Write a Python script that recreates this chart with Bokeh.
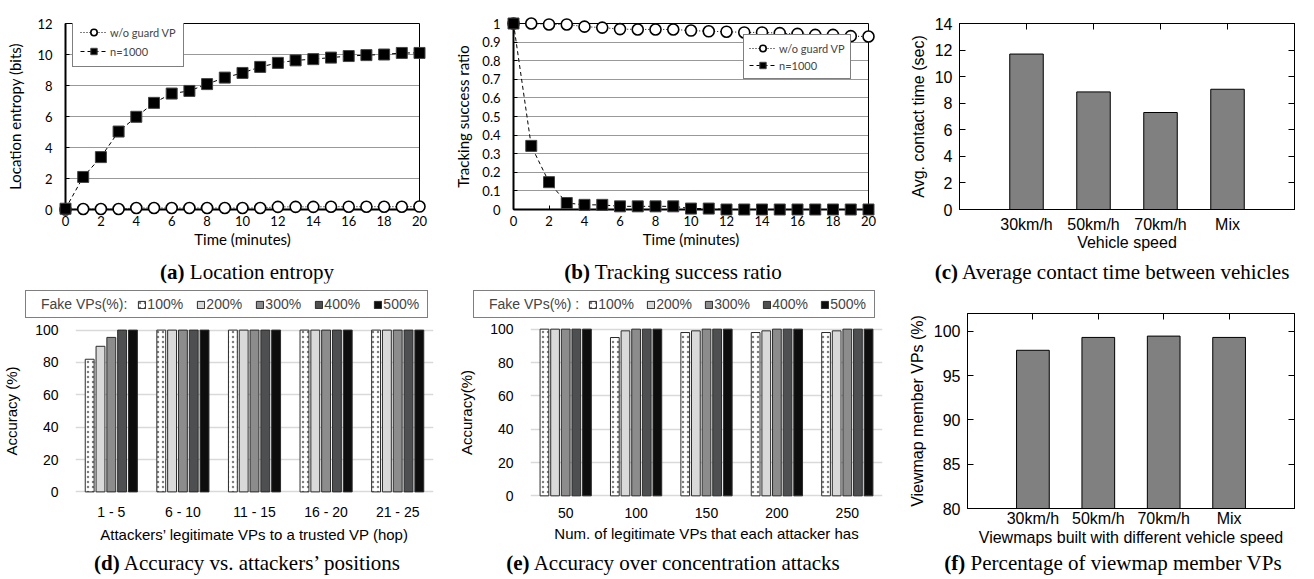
from bokeh.plotting import figure
from bokeh.models import (ColumnDataSource, FactorRange, Range1d, FixedTicker, Legend, LegendItem,
                          LinearAxis, CategoricalAxis, Div, NumeralTickFormatter)
from bokeh.transform import dodge
from bokeh.layouts import row, column
from bokeh.embed import file_html
from bokeh.resources import INLINE

# ---------------- data ----------------
minutes = list(range(21))
entropy_no_guard = [0.0, 0.03, 0.03, 0.03, 0.1, 0.1, 0.1, 0.1, 0.1, 0.1, 0.1, 0.1,
                    0.17, 0.17, 0.17, 0.18, 0.18, 0.18, 0.18, 0.18, 0.19]
entropy_n1000 = [0.05, 2.1, 3.38, 5.03, 5.98, 6.88, 7.48, 7.65, 8.09, 8.51, 8.81, 9.2,
                 9.46, 9.62, 9.7, 9.8, 9.9, 9.96, 10.0, 10.1, 10.1]
track_no_guard = [1.0, 1.0, 0.995, 0.995, 0.983, 0.978, 0.97, 0.968, 0.968, 0.968, 0.962,
                  0.958, 0.956, 0.952, 0.952, 0.948, 0.944, 0.939, 0.939, 0.932, 0.93]
track_n1000 = [1.0, 0.342, 0.147, 0.035, 0.025, 0.025, 0.017, 0.017, 0.017, 0.017, 0.005,
               0.005, 0.0, 0.0, 0.0, 0.0, 0.0, 0.0, 0.0, 0.0, 0.0]

speeds = ["30km/h", "50km/h", "70km/h", "Mix"]
contact_time = [11.7, 8.85, 7.3, 9.05]
member_vps = [97.85, 99.3, 99.45, 99.3]

fake_levels = ["100%", "200%", "300%", "400%", "500%"]
hop_groups = ["1 - 5", "6 - 10", "11 - 15", "16 - 20", "21 - 25"]
pos_acc_100 = [82, 100, 100, 100, 100]
pos_acc_200 = [90, 100, 100, 100, 100]
pos_acc_300 = [95.5, 100, 100, 100, 100]
pos_acc_400 = [100, 100, 100, 100, 100]
pos_acc_500 = [100, 100, 100, 100, 100]

legit_groups = ["50", "100", "150", "200", "250"]
conc_acc_100 = [100, 95, 98, 98, 98]
conc_acc_200 = [100, 99, 99, 99, 99]
conc_acc_300 = [100, 100, 100, 100, 100]
conc_acc_400 = [100, 100, 100, 100, 100]
conc_acc_500 = [100, 100, 100, 100, 100]

# ---------------- styles ----------------
F_CAL = "Lato"
F_SANS = "Liberation Sans"
F_SERIF = "Liberation Serif"
bar_fills = ["white", "#d9d9d9", "#8c8c8c", "#4d4f51", "#0d0d0d"]


def bar_style(j):
    kw = dict(fill_color=bar_fills[j], line_color="#2b2b2b", line_width=1)
    if j == 0:
        kw.update(hatch_pattern="dot", hatch_color="#808080", hatch_scale=5, hatch_weight=1)
    return kw


def base_fig(width, height, left, right, top, bottom, x_range, y_range):
    return figure(width=width, height=height, x_range=x_range, y_range=y_range,
                  min_border_left=left, min_border_right=right, min_border_top=top,
                  min_border_bottom=bottom, output_backend="svg", toolbar_location=None)


def style_axis(ax, font, tick_size, label_size):
    ax.major_label_text_font = font
    ax.major_label_text_font_size = tick_size
    ax.major_label_text_color = "black"
    ax.axis_label_text_font = font
    ax.axis_label_text_font_size = label_size
    ax.axis_label_text_font_style = "normal"
    ax.axis_label_text_color = "black"
    ax.minor_tick_line_color = None


def line_panel(width, left, right, top, yr, yticks, ylabel, s_no, s_n, leg_xy, leg_pad, leg_sp,
               ylab_sd, fmt=None):
    p = base_fig(width, 261, left, right, top, 52, Range1d(0, 20), Range1d(*yr))
    p.xgrid.visible = False
    p.ygrid.grid_line_color = "black"
    p.ygrid.grid_line_dash = "1 1"
    p.ygrid.grid_line_alpha = 0.8
    p.outline_line_color = "black"
    p.outline_line_width = 1
    p.outline_line_alpha = 1
    p.xaxis.ticker = FixedTicker(ticks=list(range(0, 21, 2)))
    p.yaxis.ticker = FixedTicker(ticks=yticks)
    if fmt:
        p.yaxis.formatter = NumeralTickFormatter(format=fmt)
    for ax in (p.xaxis[0], p.yaxis[0]):
        style_axis(ax, F_CAL, "13px", "15px")
        ax.axis_line_width = 2
        ax.axis_line_color = "black"
        ax.major_tick_in = 4
        ax.major_tick_out = 0
        ax.major_tick_line_color = "black"
    p.xaxis.axis_label = "Time (minutes)"
    p.xaxis.major_label_standoff = 6
    p.xaxis.axis_label_standoff = 1
    p.yaxis.axis_label = ylabel
    p.yaxis.major_label_standoff = 13
    p.yaxis.axis_label_standoff = ylab_sd

    l1 = p.line(minutes, s_no, line_color="black", line_width=1, line_dash="1 2")
    m1 = p.scatter(minutes, s_no, marker="circle", size=11, fill_color="white",
                   line_color="black", line_width=1.6)
    l2 = p.line(minutes, s_n, line_color="black", line_width=1, line_dash="4 3")
    m2 = p.scatter(minutes, s_n, marker="square", size=11, fill_color="black",
                   line_color="#444444", line_width=1)
    m1.level = "overlay"
    m2.level = "overlay"
    leg = Legend(items=[LegendItem(label="w/o guard VP", renderers=[l1, m1]),
                        LegendItem(label="n=1000", renderers=[l2, m2])],
                 location=leg_xy, orientation="vertical", glyph_width=27, glyph_height=16,
                 label_height=16, padding=leg_pad, spacing=leg_sp, label_standoff=3,
                 label_text_font=F_CAL, label_text_font_size="11px",
                 border_line_color="black", border_line_width=1, background_fill_alpha=1)
    p.add_layout(leg)
    return p


# (a) Location entropy: frame x 65-419, y 13-209
pa = line_panel(450, 65, 31, 13, (0, 12), list(range(0, 13, 2)), "Location entropy (bits)",
                entropy_no_guard, entropy_n1000, (7, 142), 7, 3, 10)
# (b) Tracking success ratio: frame x 513-868, y 12-209
pb = line_panel(450, 63, 32, 12, (0, 1), [0, 0.1, 0.2, 0.3, 0.4, 0.5, 0.6, 0.7, 0.8, 0.9, 1.0],
                "Tracking success ratio", track_no_guard, track_n1000, (230, 130), 5, 1, 7,
                fmt="0.[0]")


def gnu_panel(width, height, left, right, top, bottom, vals, yr, yticks, ylabel, xlabel,
              xtick_sd, xlab_sd):
    p = base_fig(width, height, left, right, top, bottom,
                 FactorRange(factors=speeds, range_padding=0.5, range_padding_units="absolute"),
                 Range1d(*yr))
    p.grid.visible = False
    p.outline_line_color = "black"
    p.outline_line_width = 1
    p.outline_line_alpha = 1
    p.vbar(x=speeds, top=vals, bottom=yr[0], width=0.5, fill_color="#808080",
           line_color="black", line_width=1)
    p.yaxis.ticker = FixedTicker(ticks=yticks)
    for ax in (p.xaxis[0], p.yaxis[0]):
        style_axis(ax, F_SANS, "16px", "16px")
        ax.axis_line_color = "black"
        ax.major_tick_line_color = "black"
        ax.major_tick_out = 0
    p.xaxis.major_tick_in = 0
    p.yaxis.major_tick_in = 6
    p.xaxis.axis_label = xlabel
    p.xaxis.major_label_standoff = xtick_sd
    p.xaxis.axis_label_standoff = xlab_sd
    p.yaxis.axis_label = ylabel
    p.yaxis.major_label_standoff = 7
    p.yaxis.axis_label_standoff = 5
    top_ax = CategoricalAxis(major_label_text_font_size="1px", major_label_text_color=None,
                             major_label_standoff=0, major_tick_in=6, major_tick_out=0,
                             axis_line_color="black")
    right_ax = LinearAxis(ticker=FixedTicker(ticks=yticks), major_label_text_font_size="1px",
                          major_label_text_color=None, major_label_standoff=0,
                          major_tick_in=6, major_tick_out=0,
                          minor_tick_line_color=None, axis_line_color="black")
    p.add_layout(top_ax, "above")
    p.add_layout(right_ax, "right")
    return p


# (c) frame x 959-1294, y 23-216
pc = gnu_panel(406, 261, 59, 12, 23, 45, contact_time, (0, 14), list(range(0, 15, 2)),
               "Avg. contact time (sec)", "Vehicle speed", 6, -2)


def acc_panel(width, left, right, top, fh, groups, sources, ylabel, xlabel,
              ylab_sd, xtick_sd, xlab_sd):
    h = 233
    p = base_fig(width, h, left, right, top, h - top - fh,
                 FactorRange(factors=groups, range_padding=0), Range1d(-1, 101))
    p.xgrid.visible = False
    p.ygrid.grid_line_color = "#d9d9d9"
    p.ygrid.grid_line_width = 1.5
    p.outline_line_color = None
    p.yaxis.ticker = FixedTicker(ticks=[0, 20, 40, 60, 80, 100])
    for ax in (p.xaxis[0], p.yaxis[0]):
        style_axis(ax, F_SANS, "14px", "15px")
        ax.axis_line_color = None
        ax.major_tick_line_color = None
    p.yaxis.major_label_standoff = 11
    p.yaxis.axis_label = ylabel
    p.yaxis.axis_label_standoff = ylab_sd
    p.xaxis.major_label_standoff = xtick_sd
    p.xaxis.axis_label = xlabel
    p.xaxis.axis_label_standoff = xlab_sd
    for j, src in enumerate(sources):
        p.vbar(x=dodge("grp", (j - 2) * 0.151, range=p.x_range), top="val", bottom=0,
               width=0.124, source=src, **bar_style(j))
    return p


def legend_strip(width, xr, sources, fake_title, leg_xy, leg_spacing):
    """Strip above a bar panel holding its 'Fake VPs(%)' legend.  The swatch renderers use the
    same series as the panel, but the strip's y-range lies above 100, so only the legend shows."""
    f = figure(frame_width=width, frame_height=36, x_range=xr, y_range=Range1d(101.5, 102),
               min_border=0, min_border_left=0, min_border_right=0, min_border_top=0,
               min_border_bottom=0, x_axis_location=None, y_axis_location=None,
               output_backend="svg", toolbar_location=None)
    f.grid.visible = False
    f.outline_line_color = None
    blank = f.vbar(x=[], top=[], width=0.1, fill_alpha=0, line_alpha=0)
    items = [LegendItem(label=fake_title, renderers=[blank])]
    for j, src in enumerate(sources):
        sw = f.vbar(x=dodge("grp", (j - 2) * 0.151, range=xr), top="val", bottom=0,
                    width=0.124, source=src, **bar_style(j))
        items.append(LegendItem(label=fake_levels[j], renderers=[sw]))
    leg = Legend(items=items, location=leg_xy, orientation="horizontal", glyph_width=9,
                 glyph_height=9, label_height=9, padding=5, spacing=leg_spacing, label_standoff=1,
                 label_width=39, label_text_font=F_SANS, label_text_font_size="14px",
                 border_line_color="black", border_line_width=1, background_fill_alpha=1)
    f.add_layout(leg)
    return f


src_d = [ColumnDataSource(dict(grp=hop_groups, val=v))
         for v in (pos_acc_100, pos_acc_200, pos_acc_300, pos_acc_400, pos_acc_500)]
src_e = [ColumnDataSource(dict(grp=legit_groups, val=v))
         for v in (conc_acc_100, conc_acc_200, conc_acc_300, conc_acc_400, conc_acc_500)]

# (d) frame x 61-433, y 328-493 ; legend box x 25-427, y 292-318
pd_ = acc_panel(455, 61, 22, 9, 165, hop_groups, src_d,
                "Accuracy (%)", "Attackers\u2019 legitimate VPs to a trusted VP (hop)", 12, 4, 3)
leg_d = legend_strip(455, pd_.x_range, src_d, "Fake VPs(%):", (25, 1), 10)
# (e) frame x 510-882, y 327-497 ; legend box x 473-874
pe = acc_panel(440, 55, 13, 8, 170, legit_groups, src_e,
               "Accuracy(%)", "Num. of legitimate VPs that each attacker has", 12, 4, 4)
leg_e = legend_strip(440, pe.x_range, src_e, "Fake VPs(%) :", (18, 1), 9)
# (f) frame x 967-1294, y 313-508
pf = gnu_panel(411, 269, 72, 12, 30, 44, member_vps, (80, 102), [80, 85, 90, 95, 100],
               "Viewmap member VPs (%)", "Viewmaps built with different vehicle speed", 1, -1)


def captions(entries):
    spans = "".join(
        f'<span style="position:absolute;left:{x}px;top:0;transform:translateX(-50%);'
        f'white-space:nowrap;line-height:22px"><b>{tag}</b> {txt}</span>'
        for x, tag, txt in entries)
    return Div(text=f'<div style="position:relative;width:1306px;height:22px;'
                    f'font-family:\'Liberation Serif\';font-size:21px;color:#000">{spans}</div>',
               width=1306, height=22, margin=(0, 0, 0, 0))


cap1 = captions([(247, "(a)", "Location entropy"), (673, "(b)", "Tracking success ratio"),
                 (1112, "(c)", "Average contact time between vehicles")])
cap2 = captions([(247, "(d)", "Accuracy vs. attackers\u2019 positions"),
                 (673, "(e)", "Accuracy over concentration attacks"),
                 (1113, "(f)", "Percentage of viewmap member VPs")])

layout = column(row(pa, pb, pc), cap1,
                row(column(leg_d, pd_), column(leg_e, pe), pf), cap2)
open("out.html", "w").write(file_html(layout, INLINE))
